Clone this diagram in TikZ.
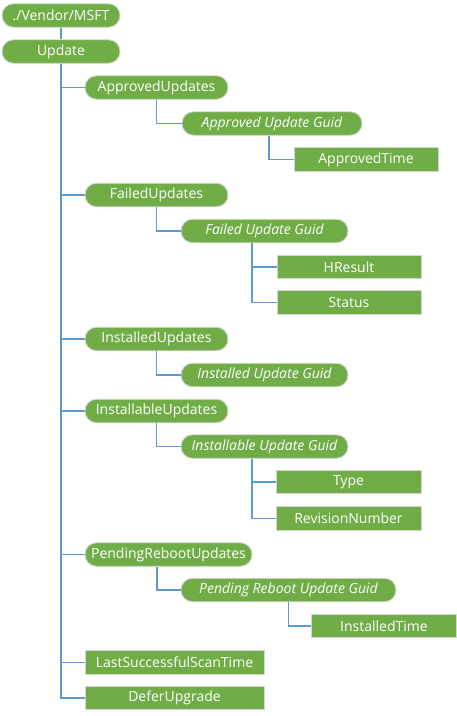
\documentclass[tikz,border=0pt]{standalone}
\usepackage{fontspec}
\setmainfont{Open Sans}
\definecolor{leaf}{HTML}{70AD47}
\definecolor{link}{HTML}{5B9BD5}
\definecolor{rim}{HTML}{D6D6D6}

\begin{document}
\begin{tikzpicture}[x=1pt, y=-1pt,
		box/.style={draw=rim, line width=0.9pt, fill=leaf, text=white, minimum height=23.5pt, inner sep=0pt, font=\fontsize{14}{16}\selectfont},
		pill/.style={box, rounded corners=11.5pt},
		guid/.style={pill, font=\fontsize{14}{16}\selectfont\itshape},
		branch/.style={draw=link, line width=1.8pt}]
		\useasboundingbox (0,0) rectangle (457,716);
		\node[pill, minimum width=118pt] (vendor) at (61,15.5) {./Vendor/MSFT};
		\node[pill, minimum width=118pt] (update) at (61,51.5) {Update};
		\node[pill, minimum width=143pt] (approved) at (156.5,87.5) {ApprovedUpdates};
		\node[guid, minimum width=180pt] (approvedguid) at (272,123.5) {Approved Update Guid};
		\node[box, minimum width=144pt] (approvedtime) at (366,159.5) {ApprovedTime};
		\node[pill, minimum width=143pt] (failed) at (156.5,195) {FailedUpdates};
		\node[guid, minimum width=167pt] (failedguid) at (264.5,231) {Failed Update Guid};
		\node[box, minimum width=144pt] (hresult) at (349,267) {HResult};
		\node[box, minimum width=144pt] (status) at (349,302.5) {Status};
		\node[pill, minimum width=143pt] (installed) at (156.5,339) {InstalledUpdates};
		\node[guid, minimum width=167pt] (installedguid) at (264.5,375) {Installed Update Guid};
		\node[pill, minimum width=143pt] (installable) at (156.5,411) {InstallableUpdates};
		\node[guid, minimum width=167pt] (installableguid) at (264.5,446.5) {Installable Update Guid};
		\node[box, minimum width=145pt] (type) at (348.5,482) {Type};
		\node[box, minimum width=145pt] (revision) at (348.5,518.5) {RevisionNumber};
		\node[pill, minimum width=167pt] (pending) at (168.5,554.5) {PendingRebootUpdates};
		\node[guid, minimum width=215pt] (pendingguid) at (288.5,590) {Pending Reboot Update Guid};
		\node[box, minimum width=145pt] (installedtime) at (384,626) {InstalledTime};
		\node[box, minimum width=179pt] (lastscan) at (174.5,662.5) {LastSuccessfulScanTime};
		\node[box, minimum width=179pt] (defer) at (174.5,698) {DeferUpgrade};
		% tree lines
		\draw[branch] (vendor) -- (update);
		\draw[branch] (update.south) |- (approved.west);
		\draw[branch] (update.south) |- (failed.west);
		\draw[branch] (update.south) |- (installed.west);
		\draw[branch] (update.south) |- (installable.west);
		\draw[branch] (update.south) |- (pending.west);
		\draw[branch] (update.south) |- (lastscan.west);
		\draw[branch] (update.south) |- (defer.west);
		\draw[branch] (approved.south) |- (approvedguid.west);
		\draw[branch] ([xshift=-3pt]approvedguid.south) |- (approvedtime.west);
		\draw[branch] (failed.south) |- (failedguid.west);
		\draw[branch] ([xshift=-12.5pt]failedguid.south) |- (hresult.west);
		\draw[branch] ([xshift=-12.5pt]failedguid.south) |- (status.west);
		\draw[branch] (installed.south) |- (installedguid.west);
		\draw[branch] (installable.south) |- (installableguid.west);
		\draw[branch] ([xshift=-12.5pt]installableguid.south) |- (type.west);
		\draw[branch] ([xshift=-12.5pt]installableguid.south) |- (revision.west);
		\draw[branch] ([xshift=-11.5pt]pending.south) |- (pendingguid.west);
		\draw[branch] (pendingguid.south) |- (installedtime.west);
\end{tikzpicture}
\end{document}
